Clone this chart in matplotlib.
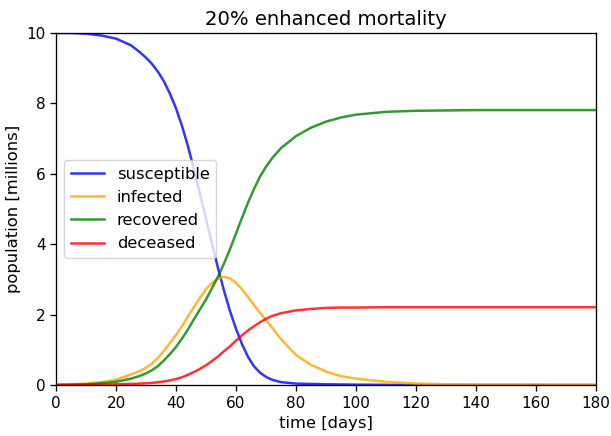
import matplotlib
matplotlib.use("Agg")
import matplotlib.pyplot as plt

days = [0, 5, 10, 15, 20, 25, 28, 30, 32, 34, 36, 38, 40, 42, 44, 46, 48, 50, 52, 54,
        56, 58, 60, 62, 64, 66, 68, 70, 72, 75, 80, 85, 90, 95, 100, 110, 120, 130, 140, 160, 180]

susceptible = [10.0, 10.0, 9.98, 9.93, 9.84, 9.65, 9.45, 9.3, 9.12, 8.9, 8.62, 8.27, 7.86, 7.36, 6.78,
               6.12, 5.42, 4.72, 4.02, 3.32, 2.68, 2.1, 1.6, 1.16, 0.8, 0.53, 0.35, 0.23, 0.15,
               0.08, 0.04, 0.03, 0.02, 0.015, 0.01, 0.005, 0.0, 0.0, 0.0, 0.0, 0.0]

infected = [0.01, 0.02, 0.04, 0.08, 0.15, 0.3, 0.4, 0.49, 0.61, 0.77, 0.97, 1.19, 1.42, 1.67, 1.95,
            2.22, 2.48, 2.72, 2.9, 3.02, 3.07, 3.03, 2.9, 2.72, 2.5, 2.27, 2.05, 1.85, 1.63,
            1.3, 0.85, 0.57, 0.38, 0.25, 0.18, 0.09, 0.04, 0.02, 0.01, 0.005, 0.0]

recovered = [0.0, 0.01, 0.02, 0.05, 0.09, 0.18, 0.26, 0.33, 0.42, 0.54, 0.7, 0.88, 1.08, 1.32, 1.58,
             1.87, 2.15, 2.43, 2.75, 3.08, 3.45, 3.86, 4.3, 4.75, 5.18, 5.57, 5.92, 6.2, 6.44,
             6.73, 7.07, 7.31, 7.48, 7.6, 7.68, 7.76, 7.79, 7.8, 7.81, 7.81, 7.81]

deceased = [0.0, 0.0, 0.005, 0.01, 0.02, 0.03, 0.04, 0.05, 0.06, 0.08, 0.1, 0.13, 0.17, 0.22, 0.29,
            0.37, 0.46, 0.56, 0.68, 0.81, 0.96, 1.1, 1.26, 1.41, 1.55, 1.67, 1.78, 1.88, 1.96,
            2.04, 2.12, 2.16, 2.19, 2.2, 2.2, 2.21, 2.21, 2.21, 2.21, 2.21, 2.21]

series = [("susceptible", susceptible, "b"),
          ("infected", infected, "orange"),
          ("recovered", recovered, "g"),
          ("deceased", deceased, "r")]

s = 1.18
plt.rcParams.update({
    "font.size": 10 * s,
    "axes.titlesize": 12 * s,
    "xtick.labelsize": 11,
    "ytick.labelsize": 11,
    "xtick.major.size": 3.5 * s,
    "ytick.major.size": 3.5 * s,
    "axes.linewidth": 0.8 * s,
    "xtick.major.width": 0.8 * s,
    "ytick.major.width": 0.8 * s,
})

fig = plt.figure(figsize=(6.11, 4.36), dpi=100)
ax = fig.add_axes([56 / 611, 51 / 436, 540 / 611, 352 / 436])

for name, vals, col in series:
    ax.plot(days, vals, color=col, alpha=0.8, lw=1.8, label=name)

ax.set_xlim(0, 180)
ax.set_ylim(0, 10)
ax.set_xticks(range(0, 181, 20))
ax.set_yticks(range(0, 11, 2))
ax.set_xlabel("time [days]")
ax.set_ylabel("population [millions]")
ax.set_title("20% enhanced mortality")
ax.legend(loc="center left")

fig.savefig("out.png", dpi=100)
